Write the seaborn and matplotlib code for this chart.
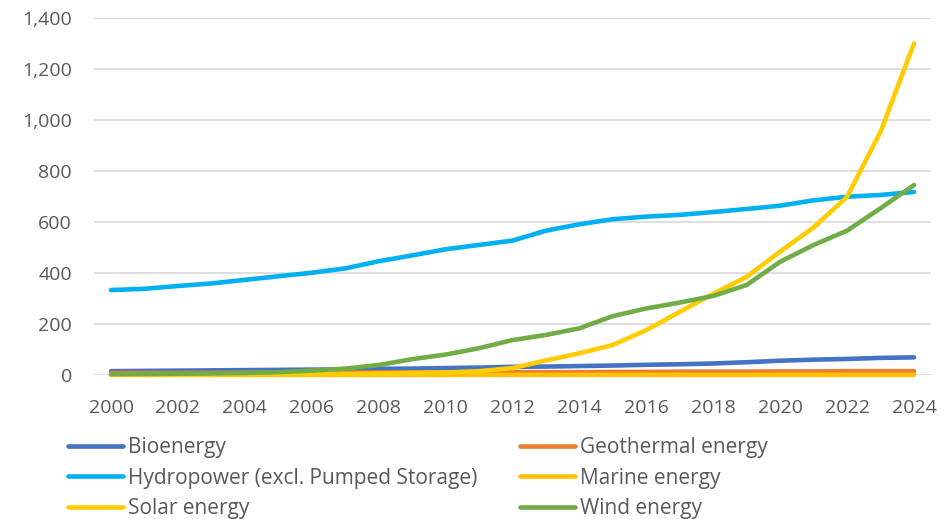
import matplotlib
matplotlib.use("Agg")
import matplotlib.pyplot as plt
from matplotlib.lines import Line2D
from matplotlib.ticker import FuncFormatter, MultipleLocator
import numpy as np
import pandas as pd
import seaborn as sns

years = list(range(2000, 2025))

bioenergy = [15, 16, 17, 18, 19, 20, 21, 22, 24, 25, 27, 29, 32, 33, 35,
             37, 40, 42, 45, 50, 56, 60, 63, 67, 69]
geothermal = [8, 8, 8, 8, 9, 9, 9, 9, 10, 10, 10, 10, 11, 11, 11,
              12, 12, 13, 13, 13, 14, 14, 15, 15, 15]
hydropower = [333, 338, 349, 359, 373, 387, 401, 418, 446, 469, 493, 510, 527,
              566, 591, 611, 621, 628, 639, 651, 664, 685, 699, 706, 718]
marine = [0.3, 0.3, 0.3, 0.3, 0.3, 0.3, 0.3, 0.3, 0.3, 0.3, 0.3, 0.4, 0.5,
          0.5, 0.5, 0.5, 0.5, 0.5, 0.5, 0.5, 0.5, 0.5, 0.5, 0.5, 0.5]
solar = [1, 1, 1, 1, 2, 2, 3, 4, 6, 8, 10, 15, 27, 57, 85,
         118, 176, 248, 318, 385, 484, 579, 699, 954, 1300]
wind = [3, 4, 5, 6, 8, 11, 17, 25, 39, 62, 80, 105, 137, 157, 183,
        231, 261, 284, 310, 353, 444, 510, 566, 654, 745]

series_names = ["Bioenergy", "Geothermal energy",
                "Hydropower (excl. Pumped Storage)", "Marine energy",
                "Solar energy", "Wind energy"]
series_values = [bioenergy, geothermal, hydropower, marine, solar, wind]
series_colors = ["#4472C4", "#ED7D31", "#00B0F0", "#FFC000", "#FFCC00", "#70AD47"]

df = pd.DataFrame(
    [(y, name, v) for name, vals in zip(series_names, series_values)
     for y, v in zip(years, vals)],
    columns=["Year", "Technology", "Value"],
)

sns.set_theme(style="white")
plt.rcParams["font.family"] = ["Open Sans", "DejaVu Sans"]

text_color = "#595959"
grid_color = "#D9D9D9"
lw = 3.3

fig = plt.figure(figsize=(9.48, 5.19), dpi=100)
ax = fig.add_axes([0.0995, 0.2775, 0.8823, 0.6878])

sns.lineplot(data=df, x="Year", y="Value", hue="Technology",
             hue_order=series_names, palette=series_colors,
             linewidth=lw, ax=ax, legend=False, zorder=3)
for line in ax.get_lines():
    line.set_solid_capstyle("round")
    line.set_solid_joinstyle("round")
    line.set_clip_on(False)

ax.set_xlim(1999.5, 2024.5)
ax.set_ylim(0, 1400)
ax.xaxis.set_major_locator(MultipleLocator(2))
ax.yaxis.set_major_locator(MultipleLocator(200))
ax.yaxis.set_major_formatter(FuncFormatter(lambda v, _: f"{v:,.0f}"))
ax.set_xlabel("")
ax.set_ylabel("")

ax.grid(axis="y", color=grid_color, linewidth=1.2, zorder=0)
ax.grid(axis="x", visible=False)
for side in ["top", "right", "left", "bottom"]:
    ax.spines[side].set_visible(False)

ax.tick_params(axis="both", length=0, labelsize=14, labelcolor=text_color)
ax.tick_params(axis="y", pad=16)
ax.tick_params(axis="x", pad=17)

handles = {name: Line2D([], [], color=c, linewidth=lw, solid_capstyle="round")
           for name, c in zip(series_names, series_colors)}
order = ["Bioenergy", "Hydropower (excl. Pumped Storage)", "Solar energy",
         "Geothermal energy", "Marine energy", "Wind energy"]
leg = fig.legend([handles[n] for n in order], order, ncol=2,
                 loc="upper left", bbox_to_anchor=(0.0717, 0.158),
                 frameon=False, fontsize=15, handlelength=2.64,
                 handletextpad=0.24, columnspacing=2.07, labelspacing=0.46,
                 borderpad=0, borderaxespad=0)
for t in leg.get_texts():
    t.set_color(text_color)

fig.savefig("out.png", dpi=100, facecolor="white")
